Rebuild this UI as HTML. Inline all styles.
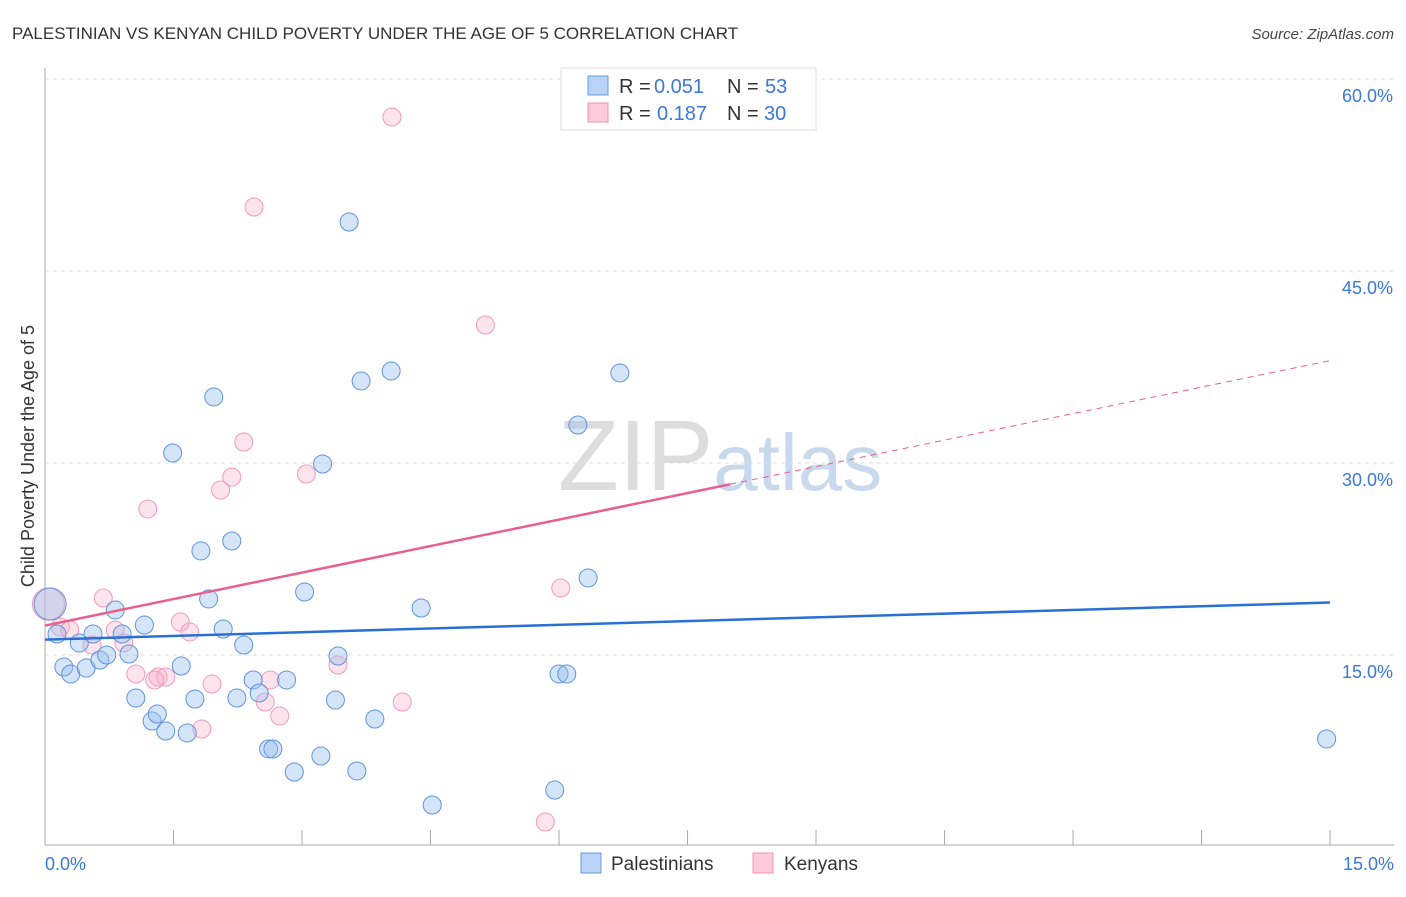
<!DOCTYPE html>
<html><head><meta charset="utf-8"><style>
body{margin:0;background:#fff;font-family:"Liberation Sans",sans-serif}
svg text{font-family:"Liberation Sans",sans-serif}
</style></head><body>
<svg id="chart" width="1406" height="892" xmlns="http://www.w3.org/2000/svg">
<text x="12" y="39" font-size="17" fill="#333">PALESTINIAN VS KENYAN CHILD POVERTY UNDER THE AGE OF 5 CORRELATION CHART</text>
<text x="1394" y="39" font-size="15" fill="#444" text-anchor="end" font-style="italic">Source: ZipAtlas.com</text>
<text x="720" y="490" font-size="100" fill="#ddd" text-anchor="middle" font-family="Liberation Serif">ZIP<tspan fill="#c8d9ee" font-family="Liberation Sans" font-size="80">atlas</tspan></text>
<g id="grid"></g>
<g id="axes"></g>
<text transform="translate(34,456) rotate(-90)" font-size="18" fill="#333" text-anchor="middle">Child Poverty Under the Age of 5</text>
<g id="marks"></g>
<g id="legend">
<rect x="561" y="68" width="255" height="62" fill="#fff" stroke="#ddd"/>
<rect x="588" y="76" width="20" height="19" fill="#b8d3f5" stroke="#6a9be0"/>
<rect x="588" y="103" width="20" height="19" fill="#fbcadb" stroke="#f093b3"/>
<text x="619" y="93" font-size="20" fill="#333">R =</text><text x="654" y="93" font-size="20" fill="#3b78d8">0.051</text>
<text x="727" y="93" font-size="20" fill="#333">N =</text><text x="765" y="93" font-size="20" fill="#3b78d8">53</text>
<text x="619" y="120" font-size="20" fill="#333">R =</text><text x="657" y="120" font-size="20" fill="#3b78d8">0.187</text>
<text x="727" y="120" font-size="20" fill="#333">N =</text><text x="764" y="120" font-size="20" fill="#3b78d8">30</text>
</g>
<g>
<rect x="581" y="853" width="20" height="20" fill="#b8d3f5" stroke="#6a9be0"/>
<text x="611" y="870" font-size="19" fill="#333">Palestinians</text>
<rect x="753" y="853" width="20" height="20" fill="#fbcadb" stroke="#f093b3"/>
<text x="784" y="870" font-size="19" fill="#333">Kenyans</text>
</g>
</svg>
<script>
const blueX=[0.06,0.14,0.22,0.30,0.40,0.48,0.56,0.64,0.72,0.82,0.90,0.98,1.06,1.16,1.25,1.31,1.41,1.49,1.59,1.66,1.75,1.82,1.91,1.97,2.08,2.18,2.24,2.32,2.43,2.50,2.61,2.66,2.82,2.91,3.03,3.22,3.24,3.39,3.42,3.55,3.64,3.69,3.85,4.04,4.39,4.52,5.95,6.00,6.09,6.22,6.34,6.71,14.96];
const blueY=[18.98,16.64,14.06,13.52,15.94,13.98,16.64,14.61,15.0,18.52,16.64,15.08,11.64,17.34,9.84,10.39,9.06,30.78,14.14,8.91,11.56,23.13,19.38,35.16,17.03,23.91,11.64,15.78,13.05,12.03,7.66,7.66,13.05,5.86,19.92,7.11,29.92,11.48,14.92,48.83,5.94,36.41,10.0,37.19,18.67,3.28,4.45,13.52,13.52,32.97,21.02,37.03,8.44];
const pinkX=[0.04,0.18,0.29,0.55,0.68,0.82,0.92,1.06,1.20,1.32,1.41,1.58,1.69,1.83,1.95,2.05,2.18,2.32,2.44,2.57,2.63,2.74,3.05,3.42,4.05,4.17,5.14,5.84,6.02,1.28];
const pinkY=[18.98,17.19,16.95,15.78,19.45,16.95,15.94,13.52,26.41,13.28,13.28,17.58,16.80,9.22,12.73,27.89,28.91,31.64,50.0,11.33,13.05,10.23,29.14,14.22,57.03,11.33,40.78,1.95,20.23,13.05];
const blueTrend=[16.2,19.1];
const pinkTrend=[17.3,38.0];
const yTicks=[15,30,45,60];
const yTickLabels=["15.0%","30.0%","45.0%","60.0%"];
const xTickLabels=["0.0%","15.0%"];
const NS="http://www.w3.org/2000/svg";
const sx=v=>45+v*85.67, sy=v=>847-v*12.8;
function el(t,a,p){const e=document.createElementNS(NS,t);for(const k in a)e.setAttribute(k,a[k]);p.appendChild(e);return e;}
const grid=document.getElementById('grid'),axes=document.getElementById('axes'),marks=document.getElementById('marks');
yTicks.forEach((t,i)=>{
 const l=el('line',{x1:45,x2:1394,y1:sy(t),y2:sy(t),stroke:'#ddd','stroke-dasharray':'4,4'},grid);
 
 
 const tx=el('text',{x:1393,y:sy(t)+23,'font-size':18,fill:'#3b78d8','text-anchor':'end'},grid);
 tx.textContent=yTickLabels[i];
 
 
});
const la=el('line',{x1:45,x2:45,y1:68,y2:845,stroke:'#aaa'},axes);


const ba=el('line',{x1:45,x2:1394,y1:845,y2:845,stroke:'#aaa'},axes);


for(let i=0;i<=10;i++){const t=el('line',{x1:sx(i*1.5),x2:sx(i*1.5),y1:830,y2:845,stroke:'#aaa'},axes);
 
 }
[[0,'start',45],[15,'end',1394]].forEach((d,i)=>{const t=el('text',{x:d[2],y:870,'font-size':18,fill:'#3b78d8','text-anchor':d[1]},axes);t.textContent=xTickLabels[i];
 
 });
function pts(X,Y,fill,stroke,name){X.forEach((x,i)=>{const r=i===0?16:9;
 const c=el('circle',{cx:sx(x),cy:sy(Y[i]),r:r,fill:fill,stroke:stroke,'stroke-width':1},marks);
 
 });}
pts(pinkX,pinkY,'rgba(248,175,200,0.35)','#f39abb','kenyan-point');
pts(blueX,blueY,'rgba(150,190,240,0.4)','#5f93de','palestinian-point');
const bt=el('line',{x1:sx(0),y1:sy(blueTrend[0]),x2:sx(15),y2:sy(blueTrend[1]),stroke:'#2a6fd6','stroke-width':2.5},marks);


const pAt=x=>pinkTrend[0]+(pinkTrend[1]-pinkTrend[0])*x/15;
const pt=el('line',{x1:sx(0),y1:sy(pAt(0)),x2:sx(8),y2:sy(pAt(8)),stroke:'#e8608e','stroke-width':2.5},marks);


const pd=el('line',{x1:sx(8),y1:sy(pAt(8)),x2:sx(15),y2:sy(pAt(15)),stroke:'#e8608e','stroke-width':1,'stroke-dasharray':'6,5'},marks);


</script>
</body></html>
